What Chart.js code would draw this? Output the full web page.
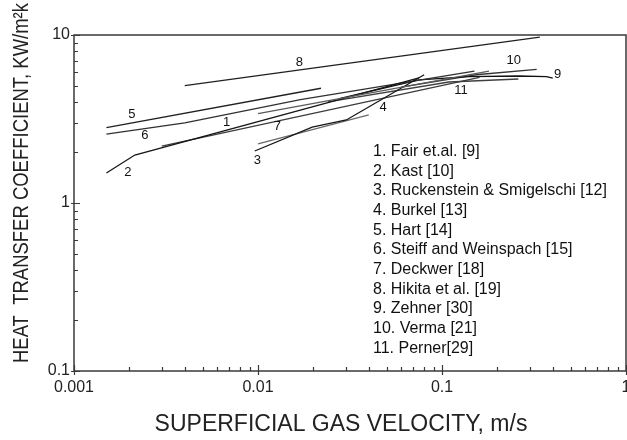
<!DOCTYPE html>
<html>
<head>
<meta charset="utf-8">
<script src="https://cdn.jsdelivr.net/npm/chart.js@4/dist/chart.umd.min.js"></script>
<style>
  html, body { margin: 0; padding: 0; background: #fff; }
  #wrap { width: 627px; height: 440px; }
</style>
</head>
<body>
<div id="wrap"><canvas id="c" width="627" height="440"></canvas></div>
<script>
const FONT = '"Liberation Sans", Arial, Helvetica, sans-serif';

// Superficial gas velocity (m/s) and heat transfer coefficient (kW/m2K) per correlation
const fairU = [0.01, 0.18];
const fairH = [3.4, 6.1];
const kastU = [0.0015, 0.00214, 0.075];
const kastH = [1.51, 1.93, 5.55];
const ruckU = [0.0096, 0.0197, 0.0302, 0.08];
const ruckH = [2.04, 2.83, 3.12, 5.8];
const burkelU = [0.01, 0.04];
const burkelH = [2.25, 3.35];
const hartU = [0.0015, 0.022];
const hartH = [2.81, 4.82];
const steiffU = [0.0015, 0.004, 0.017, 0.15];
const steiffH = [2.57, 3.0, 4.13, 6.1];
const deckwerU = [0.003, 0.16];
const deckwerH = [2.18, 5.6];
const hikitaU = [0.004, 0.34];
const hikitaH = [5.0, 9.7];
const zehnerU = [0.028, 0.075, 0.14, 0.26, 0.37, 0.40];
const zehnerH = [4.2, 5.4, 5.66, 5.7, 5.65, 5.53];
const vermaU = [0.06, 0.153, 0.327];
const vermaH = [4.9, 5.8, 6.25];
const pernerU = [0.024, 0.109, 0.26];
const pernerH = [4.0, 5.25, 5.47];

// Number tags written beside each curve
const tagText = ['1', '2', '3', '4', '5', '6', '7', '8', '9', '10', '11'];
const tagU = [0.00675, 0.00196, 0.00993, 0.0479, 0.00206, 0.00243, 0.01275, 0.0168, 0.425, 0.2455, 0.1268];
const tagH = [3.03, 1.53, 1.80, 3.73, 3.39, 2.54, 2.87, 6.91, 5.80, 7.10, 4.71];

// Key listing the sources
const keyLines = [
  '1. Fair et.al. [9]',
  '2. Kast [10]',
  '3. Ruckenstein & Smigelschi [12]',
  '4. Burkel [13]',
  '5. Hart [14]',
  '6. Steiff and Weinspach [15]',
  '7. Deckwer [18]',
  '8. Hikita et al. [19]',
  '9. Zehner [30]',
  '10. Verma [21]',
  '11. Perner[29]'
];

// Axis tick values (decades are labelled)
const xTickValues = [];
const yTickValues = [];
[0.001, 0.01, 0.1].forEach(d => { for (let k = 1; k <= 9; k++) xTickValues.push(+(d * k).toPrecision(3)); });
xTickValues.push(1);
[0.1, 1].forEach(d => { for (let k = 1; k <= 9; k++) yTickValues.push(+(d * k).toPrecision(3)); });
yTickValues.push(10);
const xLabelled = [0.001, 0.01, 0.1, 1];
const yLabelled = [0.1, 1, 10];

const curves = [
  { u: fairU, h: fairH, color: '#5a5a5a' },
  { u: kastU, h: kastH, color: '#151515' },
  { u: ruckU, h: ruckH, color: '#151515' },
  { u: burkelU, h: burkelH, color: '#6a6a6a' },
  { u: hartU, h: hartH, color: '#202020' },
  { u: steiffU, h: steiffH, color: '#303030' },
  { u: deckwerU, h: deckwerH, color: '#3c3c3c' },
  { u: hikitaU, h: hikitaH, color: '#202020' },
  { u: zehnerU, h: zehnerH, color: '#111111' },
  { u: vermaU, h: vermaH, color: '#333333' },
  { u: pernerU, h: pernerH, color: '#404040' }
];

const datasets = curves.map((c, i) => ({
  label: keyLines[i],
  data: c.u.map((u, j) => ({ x: u, y: c.h[j] })),
  borderColor: c.color,
  borderWidth: 1.3,
  pointRadius: 0,
  fill: false,
  tension: 0
}));

const isDecade = v => Math.abs(Math.log10(v) - Math.round(Math.log10(v))) < 1e-6;

const decorations = {
  id: 'decorations',
  afterDraw(chart) {
    const { ctx, chartArea: a, scales: { x, y } } = chart;
    ctx.save();

    // plot frame
    ctx.strokeStyle = '#3a3a3a';
    ctx.lineWidth = 1.5;
    ctx.strokeRect(a.left, a.top, a.right - a.left, a.bottom - a.top);

    // inward tick marks
    ctx.lineWidth = 1.2;
    ctx.beginPath();
    xTickValues.forEach(v => {
      const px = Math.round(x.getPixelForValue(v)) + 0.5;
      const major = isDecade(v);
      ctx.moveTo(px, a.bottom + (major ? 4 : 0));
      ctx.lineTo(px, a.bottom - (major ? 6 : 4));
    });
    yTickValues.forEach(v => {
      const py = Math.round(y.getPixelForValue(v)) + 0.5;
      const major = isDecade(v);
      ctx.moveTo(a.left - (major ? 3 : 0), py);
      ctx.lineTo(a.left + (major ? 6 : 4), py);
    });
    ctx.stroke();

    // curve numbers
    ctx.fillStyle = '#111';
    ctx.font = '13px ' + FONT;
    ctx.textAlign = 'center';
    ctx.textBaseline = 'middle';
    tagText.forEach((t, i) => {
      ctx.fillText(t, x.getPixelForValue(tagU[i]), y.getPixelForValue(tagH[i]));
    });

    // key
    ctx.font = '16px ' + FONT;
    ctx.textAlign = 'left';
    ctx.textBaseline = 'alphabetic';
    keyLines.forEach((t, i) => {
      ctx.fillText(t, a.left + 299, a.top + 121 + i * 19.67);
    });

    // horizontal axis title
    ctx.fillStyle = '#222';
    ctx.font = '23px ' + FONT;
    ctx.textAlign = 'center';
    ctx.textBaseline = 'middle';
    ctx.fillText('SUPERFICIAL GAS VELOCITY, m/s', 341, 425);

    // vertical axis title
    ctx.translate(22, 183);
    ctx.rotate(-Math.PI / 2);
    ctx.font = '22px ' + FONT;
    ctx.fillText('HEAT  TRANSFER COEFFICIENT, KW/m\u00B2k', 0, 0, 360);
    ctx.restore();
  }
};

new Chart(document.getElementById('c'), {
  type: 'line',
  data: { datasets },
  options: {
    responsive: false,
    animation: false,
    devicePixelRatio: 1,
    layout: { padding: { top: 35, right: 1, left: 0, bottom: 0 } },
    plugins: { legend: { display: false }, tooltip: { enabled: false } },
    scales: {
      x: {
        type: 'logarithmic',
        min: 0.001,
        max: 1,
        border: { display: false },
        grid: { display: false, drawTicks: false },
        afterBuildTicks: s => { s.ticks = xLabelled.map(v => ({ value: v })); },
        afterFit: s => { s.height = 69; s.paddingLeft = 0; s.paddingRight = 0; },
        ticks: {
          autoSkip: false,
          maxRotation: 0,
          padding: 7,
          color: '#222',
          font: { family: FONT, size: 16 },
          callback: v => String(v)
        }
      },
      y: {
        type: 'logarithmic',
        min: 0.1,
        max: 10,
        border: { display: false },
        grid: { display: false, drawTicks: false },
        afterBuildTicks: s => { s.ticks = yLabelled.map(v => ({ value: v })); },
        afterFit: s => { s.width = 74; s.paddingTop = 0; s.paddingBottom = 0; },
        ticks: {
          autoSkip: false,
          padding: 4,
          color: '#222',
          font: { family: FONT, size: 16 },
          callback: v => String(v)
        }
      }
    }
  },
  plugins: [decorations]
});
</script>
</body>
</html>
